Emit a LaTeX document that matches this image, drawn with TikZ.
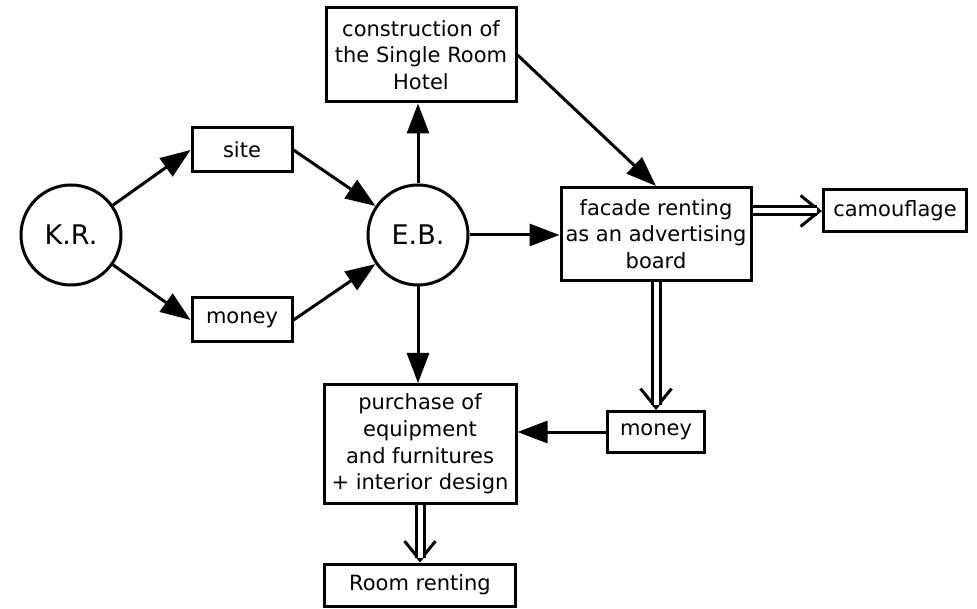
\documentclass[tikz,border=0pt]{standalone}
\usepackage{fontspec}
\setmainfont{DejaVu Sans}
\usetikzlibrary{arrows.meta,calc}
\begin{document}
\begin{tikzpicture}[x=1pt,y=-1pt,
  box/.style={draw, line width=3pt, align=center, inner sep=0pt, font=\fontsize{21}{26.7}\selectfont},
  circ/.style={draw, circle, line width=3pt, minimum size=100pt, inner sep=0pt, font=\fontsize{27}{30}\selectfont},
  arr/.style={line width=3pt, -{Triangle[length=30pt,width=22pt]}},
  barb/.style={line width=3pt, -{Straight Barb[length=19pt,width=31pt]}},
  dbl/.style={line width=3pt, double distance=5pt, shorten >=5pt}]
\useasboundingbox (0,0) rectangle (977,609);
\node[circ] (kr) at (71,235) {K.R.};
\node[circ] (eb) at (418,235) {E.B.};
\node[box, minimum width=100pt, minimum height=44pt] (site) at (242,150) {site};
\node[box, minimum width=100pt, minimum height=44pt] (m1) at (242,320) {money};
\node[box, minimum width=190pt, minimum height=94pt] (con) at (421,55) {construction of\\the Single Room\\Hotel};
\node[box, minimum width=190pt, minimum height=93pt] (fac) at (656,234) {facade renting\\as an advertising\\board};
\node[box, minimum width=143pt, minimum height=42pt] (camo) at (895,211) {camouflage};
\node[box, minimum width=97pt, minimum height=41pt] (m2) at (656,432) {money};
\node[box, minimum width=192pt, minimum height=119pt] (pur) at (420,444) {purchase of\\equipment\\and furnitures\\+ interior design};
\node[box, minimum width=191pt, minimum height=42pt] (room) at (420,585) {Room renting};
% single arrows
\draw[arr] (kr) -- (site.west);
\draw[arr] (kr) -- (m1.west);
\draw[arr] (site.east) -- (eb);
\draw[arr] (m1.east) -- (eb);
\draw[arr] (eb) -- (eb |- con.south);
\draw[arr] (con.east) -- (fac.north);
\draw[arr] (eb.east) -- (eb.east -| fac.west);
\draw[arr] (eb) -- (eb |- pur.north);
\draw[arr] (m2.west) -- (m2.west -| pur.east);
% double arrows
\draw[barb] (fac.east |- camo.west) -- (camo.west);
\draw[dbl] (fac.east |- camo.west) -- (camo.west);
\draw[barb] (fac.south) -- (m2.north);
\draw[dbl] (fac.south) -- (m2.north);
\draw[barb] (pur.south) -- (room.north);
\draw[dbl] (pur.south) -- (room.north);
\end{tikzpicture}
\end{document}
